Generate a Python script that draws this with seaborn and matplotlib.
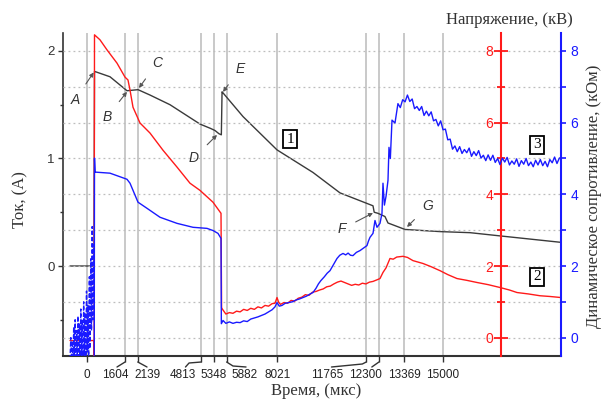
import matplotlib
matplotlib.use("Agg")
import matplotlib.pyplot as plt
import matplotlib.transforms as mtransforms
from matplotlib.ticker import FixedLocator, MultipleLocator
import seaborn as sns

# Marked instants on the time axis, µs
time_marks = [0, 1604, 2139, 4813, 5348, 5882, 8021, 11765, 12300, 13369, 15000]
time_labels = [str(t) for t in time_marks]

# Curve 1: discharge current, A
current_t = [-716, 295, 316, 969, 1685, 2149, 2654, 3497, 3918, 4761, 5200, 5393,
             5561, 5660, 5690, 5730, 6572, 8005, 9521, 10659, 12049, 12100, 12259,
             12554, 12681, 13397, 14872, 16136, 17400, 19970]
current_a = [0.0, 0.0, 1.81, 1.76, 1.63, 1.64, 1.59, 1.50, 1.44, 1.32, 1.28, 1.26,
             1.23, 1.22, 1.62, 1.61, 1.39, 1.08, 0.87, 0.68, 0.56, 0.50, 0.49,
             0.46, 0.40, 0.34, 0.32, 0.31, 0.28, 0.22]

# Curve 2: voltage, kV
voltage_t = [-716, 295, 300, 316, 548, 843, 1264, 1601, 1727, 1812, 1938, 2233, 2654,
             3202, 3792, 4339, 4761, 5308, 5646, 5670,
             5700, 5850, 6000, 6150, 6300, 6450, 6600, 6750, 6900, 7050, 7200, 7350,
             7500, 7650, 7800, 7920, 8005, 8080, 8150, 8300, 8450, 8600, 8750, 8900,
             9050, 9200, 9350, 9500, 9650, 9800, 9950, 10100, 10250, 10400, 10550,
             10700, 10850, 11000, 11150, 11300, 11450, 11600, 11750, 11900, 12050,
             12200, 12344, 12470, 12600, 12765, 12900, 13050, 13313, 13500, 13734,
             14156, 14500, 14872, 15200, 15588, 16000, 16431, 16900, 17400, 17800,
             18116, 18600, 19085, 19500, 19970]
voltage_kv = [-0.08, -0.08, -0.55, 8.45, 8.31, 8.03, 7.66, 7.27, 7.19, 6.91, 6.43, 5.99,
              5.71, 5.23, 4.76, 4.31, 4.11, 3.78, 3.47, 0.84,
              0.80, 0.66, 0.70, 0.68, 0.74, 0.72, 0.79, 0.76, 0.82, 0.79, 0.86, 0.83,
              0.90, 0.88, 0.95, 0.96, 1.12, 0.98, 0.93, 0.98, 0.96, 1.04, 1.02, 1.10,
              1.13, 1.20, 1.18, 1.27, 1.29, 1.33, 1.36, 1.42, 1.44, 1.50, 1.55,
              1.58, 1.54, 1.50, 1.46, 1.49, 1.47, 1.52, 1.50, 1.55, 1.57,
              1.61, 1.65, 1.82, 1.95, 2.21, 2.19, 2.25, 2.27, 2.24, 2.15,
              2.07, 1.98, 1.87, 1.76, 1.65, 1.60, 1.54, 1.48, 1.40, 1.33,
              1.26, 1.22, 1.17, 1.15, 1.12]

# Curve 3: dynamic resistance before breakdown (noisy), kOhm
pre_t = [-716, -680, -650, -620, -590, -560, -530, -500, -470, -440, -410, -380,
         -350, -320, -290, -260, -230, -200, -170, -140, -110, -80, -50, -20, 10,
         40, 70, 100, 130, 160, 190, 220, 250, 280, 300]
pre_kohm = [-0.6, 0.0, -0.6, -0.1, -0.7, 0.3, -0.6, 0.5, -0.7, 0.2, -0.6, 0.6,
            -0.7, 0.4, -0.6, 0.8, -0.7, 0.5, -0.6, 1.0, -0.5, 0.7, -0.7, 1.3, -0.4,
            0.9, -0.6, 1.7, -0.3, 2.2, 0.2, 3.1, 0.5, 2.6, 1.0]

# Curve 3: dynamic resistance after breakdown, kOhm
res_t = [305, 316, 340, 969, 1685, 1812, 2149, 2528, 3076, 3792, 4465, 5055, 5308,
         5519, 5646, 5660, 5730, 5850, 6000, 6150, 6300, 6450, 6600, 6750, 6900,
         7050, 7200, 7350, 7500, 7650, 7800, 7920, 8005, 8100, 8215, 8350, 8500,
         8650, 8800, 8950, 9100, 9250, 9400, 9521, 9650, 9750, 9850, 10000, 10120,
         10238, 10350, 10450, 10533, 10650, 10786, 10900, 11000, 11100, 11207,
         11350, 11502, 11650, 11796, 11860, 11923, 12049, 12133, 12218, 12344,
         12428, 12470, 12530, 12600, 12681, 12723, 12780, 12850, 12976,
         13100, 13200, 13300, 13400, 13500, 13600, 13700, 13800, 13900, 14000,
         14100, 14200, 14300, 14400, 14500, 14600, 14700, 14800, 14900, 15000,
         15100, 15200, 15300, 15400, 15500, 15600, 15700, 15800, 15900, 16000,
         16100, 16200, 16300, 16400, 16500, 16600, 16700, 16800, 16900, 17000,
         17100, 17200, 17300, 17400, 17500, 17600, 17700, 17800, 17900, 18000,
         18100, 18200, 18300, 18400, 18500, 18600, 18700, 18800, 18900, 19000,
         19100, 19200, 19300, 19400, 19500, 19600, 19700, 19800, 19900, 19970]
res_kohm = [-0.6, 5.01, 4.62, 4.59, 4.42, 4.31, 3.78, 3.61, 3.36, 3.19, 3.08, 3.05, 2.99,
            2.91, 2.77, 0.39, 0.48, 0.40, 0.44, 0.40, 0.43, 0.42, 0.47, 0.45, 0.52,
            0.55, 0.58, 0.62, 0.66, 0.72, 0.78, 0.86, 0.98, 0.88, 0.90, 0.96, 0.98,
            1.00, 1.05, 1.08, 1.12, 1.16, 1.22, 1.26, 1.38, 1.50, 1.59, 1.70, 1.80,
            1.87, 2.00, 2.12, 2.21, 2.30, 2.35, 2.31, 2.36, 2.30, 2.29,
            2.38, 2.43, 2.50, 2.57, 2.70, 2.80, 2.91, 3.27, 3.08, 3.19,
            3.47, 4.31, 3.70, 3.95, 4.39, 5.31, 5.00, 6.07, 5.99,
            6.53, 6.42, 6.64, 6.58, 6.77, 6.59, 6.66, 6.39, 6.45, 6.34,
            6.45, 6.20, 6.32, 6.19, 6.30, 6.05, 6.09, 5.91, 6.05, 5.80,
            5.82, 5.52, 5.54, 5.26, 5.35, 5.19, 5.33, 5.14, 5.25, 5.16,
            5.29, 5.06, 5.19, 5.08, 5.22, 5.01, 5.09, 4.94, 5.10, 4.95,
            5.09, 4.89, 5.00, 4.83, 5.01, 4.90, 5.03, 4.82, 4.93, 4.84,
            4.99, 4.78, 4.94, 4.84, 5.00, 4.80, 4.90, 4.77, 4.95, 4.82,
            4.97, 4.80, 4.92, 4.77, 4.97, 4.88, 5.04, 4.86, 5.01, 5.03]

# Point labels: (letter, text position, arrow target) in time / current units
point_labels = [("A", (-506, 1.544), (280, 1.80)),
                ("B", (843, 1.386), (1685, 1.62)),
                ("C", (2949, 1.888), (2191, 1.656)),
                ("D", (4508, 1.005), (5477, 1.219)),
                ("E", (6446, 1.833), (5730, 1.619)),
                ("F", (10743, 0.344), (12049, 0.493)),
                ("G", (14366, 0.558), (13482, 0.363))]
curve_numbers = [("1", (8552, 1.181)), ("2", (18958, -0.102)), ("3", (18958, 1.126))]

RED = "#ff1a1a"
BLUE = "#1a1aff"
INK = "#333333"

sns.set_theme(style="ticks")
plt.rcParams["font.family"] = ["Liberation Sans", "DejaVu Sans"]
SERIF = ["Liberation Serif", "DejaVu Serif"]

W, H = 604, 401
AX_H = 323
fig = plt.figure(figsize=(W / 100, H / 100), dpi=100)
ax = fig.add_axes([63 / W, 45 / H, 498 / W, AX_H / H])
axv = ax.twinx()
axr = ax.twinx()

# vertical marker lines
for t in time_marks:
    ax.axvline(t, color="#c9c9c9", lw=1.4, zorder=0.5)

sns.lineplot(x=current_t, y=current_a, ax=ax, color="#3a3a3a", lw=1.0,
             sort=False, estimator=None)
sns.lineplot(x=voltage_t, y=voltage_kv, ax=axv, color=RED, lw=1.0,
             sort=False, estimator=None)
sns.lineplot(x=pre_t, y=pre_kohm, ax=axr, color=BLUE, lw=1.0,
             sort=False, estimator=None, linestyle=(0, (3, 1.5)))
sns.lineplot(x=res_t, y=res_kohm, ax=axr, color=BLUE, lw=1.0,
             sort=False, estimator=None)

ax.set_xlim(-1011, 19970)
ax.set_ylim(-0.837, 2.167)
axv.set_ylim(-0.511, 8.501)
axr.set_ylim(-0.511, 8.501)
for a in (ax, axv, axr):
    a.set_xlabel("")
    a.set_ylabel("")
    for s in a.spines.values():
        s.set_visible(False)

# current axis (left)
ax.spines["left"].set_visible(True)
ax.spines["left"].set_color(INK)
ax.spines["left"].set_linewidth(1.2)
ax.spines["bottom"].set_visible(True)
ax.spines["bottom"].set_color(INK)
ax.spines["bottom"].set_linewidth(1.5)
ax.yaxis.set_major_locator(FixedLocator([0, 1, 2]))
ax.yaxis.set_minor_locator(FixedLocator([-0.5, 0.5, 1.5]))
ax.tick_params(axis="y", which="major", direction="out", length=3.6, width=1,
               colors=INK, labelsize=9.5, left=True, right=False, pad=2.5)
ax.tick_params(axis="y", which="minor", direction="out", length=2.2, width=1,
               colors=INK, left=True, right=False)

# time axis: tick marks only, labels placed below with leader lines
ax.set_xticks(time_marks)
ax.set_xticklabels([])
ax.tick_params(axis="x", which="major", direction="out", length=4.3, width=1,
               colors=INK, bottom=True, top=False)
ax.xaxis.set_minor_locator(FixedLocator([]))

label_x = [0, 1180, 2570, 4044, 5350, 6657, 8021, 10111, 11712, 13369, 15000]
leaders = {1604: [(1604, 6), (1264, 11)],
           2139: [(2139, 6), (2528, 11)],
           4813: [(4813, 6), (4300, 7), (4150, 11)],
           5882: [(5882, 6), (6150, 10), (6700, 11)],
           11765: [(11765, 6), (11600, 8), (10300, 11)],
           12300: [(12300, 6), (12000, 11)]}
trans = mtransforms.blended_transform_factory(ax.transData, ax.transAxes)
for t, pts in leaders.items():
    xs = [p[0] for p in pts]
    ys = [-p[1] / AX_H for p in pts]
    ax.plot(xs, ys, transform=trans, color=INK, lw=1.0, clip_on=False)
for lx, lab in zip(label_x, time_labels):
    ax.text(lx, -13 / AX_H, lab, transform=trans, ha="center", va="top",
            fontsize=8.5, color="#222222")

# voltage axis (red, inside the plot)
axv.spines["left"].set_visible(True)
axv.spines["left"].set_position(("data", 17450))
axv.spines["left"].set_color(RED)
axv.spines["left"].set_linewidth(1.5)
axv.yaxis.set_ticks_position("left")
axv.yaxis.set_major_locator(MultipleLocator(2))
axv.yaxis.set_minor_locator(MultipleLocator(1))
axv.tick_params(axis="y", which="major", direction="inout", length=9.4, width=1.3,
                colors=RED, labelsize=10, left=True, right=False, pad=1)
axv.tick_params(axis="y", which="minor", direction="inout", length=5.8, width=1.3,
                colors=RED, left=True, right=False)
axv.grid(axis="y", which="both", color="#bdbdbd", linestyle=(0, (1.5, 2.5)), lw=0.9)

# resistance axis (blue, right)
axr.spines["right"].set_visible(True)
axr.spines["right"].set_color(BLUE)
axr.spines["right"].set_linewidth(1.5)
axr.yaxis.set_ticks_position("right")
axr.yaxis.set_major_locator(MultipleLocator(2))
axr.yaxis.set_minor_locator(MultipleLocator(1))
axr.tick_params(axis="y", which="major", direction="out", length=3.6, width=1.2,
                colors=BLUE, labelsize=10, left=False, right=True, pad=3)
axr.tick_params(axis="y", which="minor", direction="out", length=3.6, width=1.2,
                colors=BLUE, left=False, right=True)

# point labels and curve numbers
for letter, xytext, xy in point_labels:
    axr.annotate(letter, xy=xy, xycoords=ax.transData, xytext=xytext,
                 textcoords=ax.transData, ha="center", va="center",
                 fontsize=10, style="italic", color=INK,
                 arrowprops=dict(arrowstyle="-|>", color="#555555", lw=0.8,
                                 mutation_scale=6, shrinkA=5, shrinkB=0))
for num, pos in curve_numbers:
    axr.text(pos[0], pos[1], num, transform=ax.transData, ha="center", va="center",
             fontsize=11, family=SERIF, color="black",
             bbox=dict(boxstyle="square,pad=0.18", facecolor="white",
                       edgecolor="black", lw=1.3))

# axis titles
fig.text(316 / W, 1 - 391 / H, "Время, (мкс)", ha="center", va="center",
         fontsize=12, family=SERIF, color=INK)
fig.text(20 / W, 1 - 200 / H, "Ток, (A)", ha="center", va="center",
         rotation=90, fontsize=12, family=SERIF, color=INK)
fig.text(509 / W, 1 - 20 / H, "Напряжение, (кВ)", ha="center", va="center",
         fontsize=12, family=SERIF, color=INK)
fig.text(594 / W, 1 - 196 / H, "Динамическое сопротивление, (кОм)", ha="center",
         va="center", rotation=90, fontsize=12, family=SERIF, color=INK)

fig.savefig("out.png", dpi=100, facecolor="white")
